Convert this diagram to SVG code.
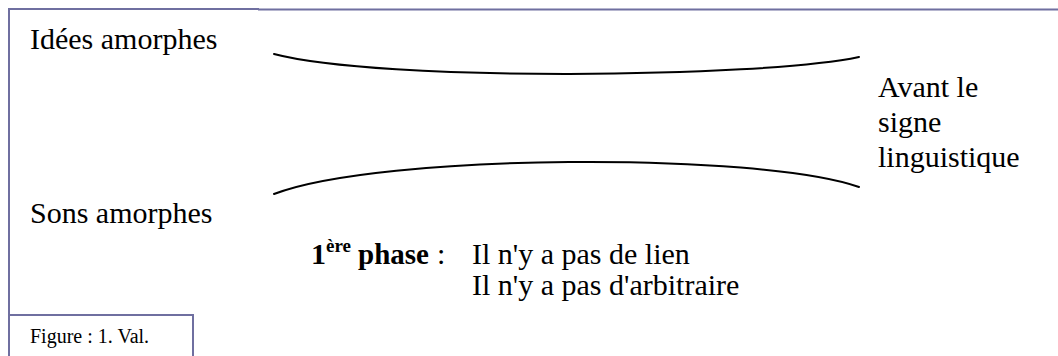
<svg xmlns="http://www.w3.org/2000/svg" width="1058" height="356" viewBox="0 0 1058 356">
<style>
.frame{fill:none;stroke:#6f6fa0;stroke-width:2}
.curve{fill:none;stroke:#000;stroke-width:2;stroke-linecap:round}
.t{font-family:"Liberation Serif","Times New Roman",serif;font-size:30px;fill:#000}
.b{font-weight:bold}
.small{font-family:"Liberation Serif","Times New Roman",serif;font-size:20px;fill:#000}
</style>
<rect width="1058" height="356" fill="#fff"/>
<g id="frame">
<line class="frame" x1="8" y1="9" x2="259" y2="9"/>
<line class="frame" x1="258" y1="9.5" x2="1058" y2="9.5" stroke="#8080ac"/>
<line class="frame" x1="9" y1="8" x2="9" y2="356"/>
</g>
<g id="connectors">
<path class="curve" d="M274,54 C380,82 760,78 859,57"/>
<path class="curve" d="M274,194 C380,153 760,152 859,187"/>
</g>
<g id="idees"><text class="t" x="30" y="49">Idées amorphes</text></g>
<g id="sons"><text class="t" x="30" y="223">Sons amorphes</text></g>
<g id="avant">
<text class="t" x="878" y="97">Avant le</text>
<text class="t" x="878" y="132">signe</text>
<text class="t" x="878" y="167">linguistique</text>
</g>
<g id="phase">
<text class="t b" x="311" y="264">1</text>
<text class="t b" x="326" y="252" style="font-size:19px">ère</text>
<text class="t b" x="358" y="264" style="font-size:29px">phase</text>
<text class="t" x="437" y="264">:</text>
<text class="t" x="472" y="264">Il n'y a pas de lien</text>
<text class="t" x="472" y="295">Il n'y a pas d'arbitraire</text>
</g>
<g id="figure">
<rect class="frame" x="9" y="315" width="184" height="50"/>
<text class="small" x="30" y="343">Figure : 1. Val.</text>
</g>
</svg>
